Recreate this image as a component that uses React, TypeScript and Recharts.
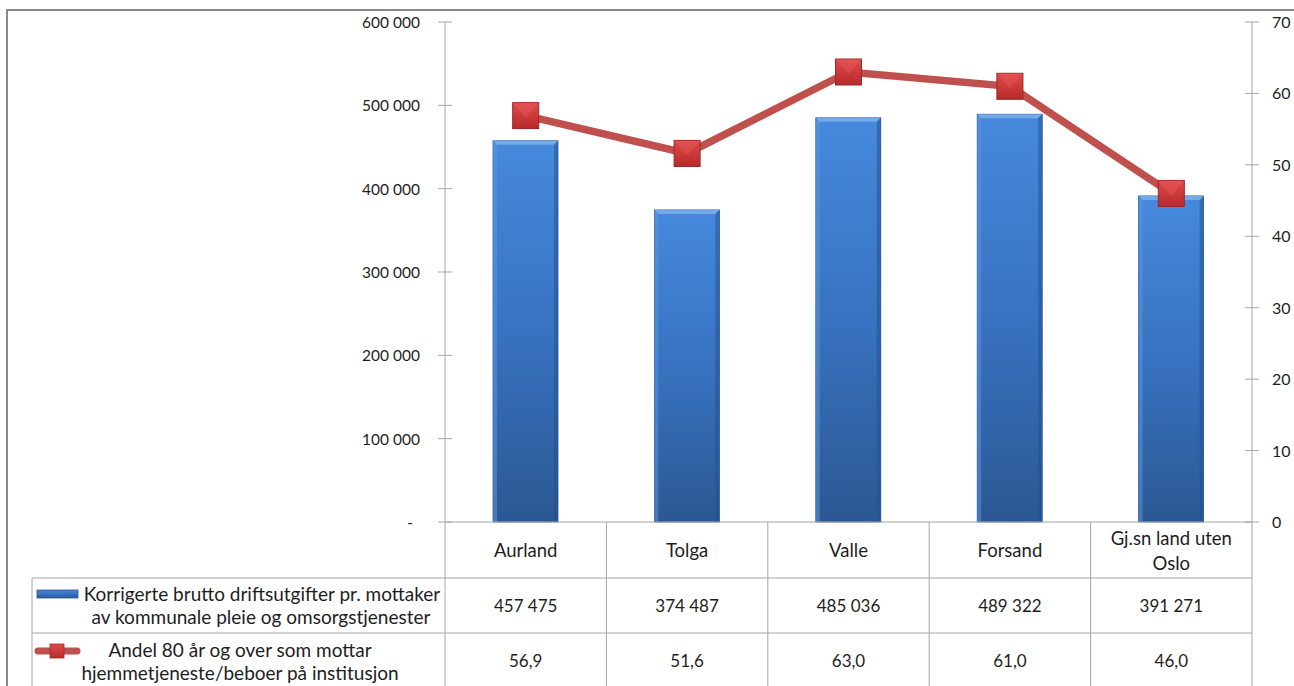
import React from 'react';
import { ComposedChart, Bar, Line, XAxis, YAxis } from 'recharts';

const categories = ['Aurland', 'Tolga', 'Valle', 'Forsand', 'Gj.sn land uten\nOslo'];
const costs = [457475, 374487, 485036, 489322, 391271];
const shares = [56.9, 51.6, 63.0, 61.0, 46.0];
const costTicks = [0, 100000, 200000, 300000, 400000, 500000, 600000];
const shareTicks = [0, 10, 20, 30, 40, 50, 60, 70];
const costLabel = ['Korrigerte brutto driftsutgifter pr. mottaker', 'av kommunale pleie og omsorgstjenester'];
const shareLabel = ['Andel 80 år og over som mottar', 'hjemmetjeneste/beboer på institusjon'];

const rows = categories.map((name, i) => ({ name, cost: costs[i], share: shares[i] }));

const W = 1294;
const H = 686;
const PLOT_LEFT = 445;
const PLOT_RIGHT = 1252;
const PLOT_TOP = 22;
const PLOT_BOTTOM = 522;
const ROW1 = 578;
const ROW2 = 633;
const LEGEND_LEFT = 32;
const COL_W = (PLOT_RIGHT - PLOT_LEFT) / categories.length;
const FONT = 'Lato, "Open Sans", sans-serif';
const GRID = '#a6a6a6';
const TEXT = '#1e1e1e';

const fmtCost = (v: number) => String(v).replace(/\B(?=(\d{3})+(?!\d))/g, ' ');
const fmtShare = (v: number) => v.toFixed(1).replace('.', ',');

const LeftTick = (props: any) => {
  const { y, payload } = props;
  const v = payload.value as number;
  return (
    <g>
      <line x1={PLOT_LEFT - 7} x2={PLOT_LEFT + 7} y1={y} y2={y} stroke={GRID} />
      <text x={v === 0 ? PLOT_LEFT - 32 : PLOT_LEFT - 25} y={y + 6} textAnchor="end" fontFamily={FONT} fontSize={15.5} fill={TEXT}>
        {v === 0 ? '-' : fmtCost(v)}
      </text>
    </g>
  );
};

const RightTick = (props: any) => {
  const { y, payload } = props;
  return (
    <g>
      <line x1={PLOT_RIGHT - 7} x2={PLOT_RIGHT + 7} y1={y} y2={y} stroke={GRID} />
      <text x={PLOT_RIGHT + 20} y={y + 6} textAnchor="start" fontFamily={FONT} fontSize={16} fill={TEXT}>
        {payload.value}
      </text>
    </g>
  );
};

const TableTick = (props: any) => {
  const { x, index } = props;
  const i = index as number;
  const lines = categories[i].split('\n');
  const half = COL_W / 2;
  return (
    <g fontFamily={FONT} fill={TEXT}>
      <line x1={x + half} x2={x + half} y1={PLOT_BOTTOM} y2={H} stroke={GRID} />
      {i === 0 && (
        <g fontSize={19}>
          <line x1={x - half} x2={x - half} y1={PLOT_BOTTOM} y2={H} stroke={GRID} />
          <line x1={LEGEND_LEFT} x2={PLOT_RIGHT} y1={ROW1} y2={ROW1} stroke={GRID} />
          <line x1={LEGEND_LEFT} x2={PLOT_RIGHT} y1={ROW2} y2={ROW2} stroke={GRID} />
          <line x1={LEGEND_LEFT} x2={LEGEND_LEFT} y1={ROW1} y2={H} stroke={GRID} />
          <rect x={37} y={590} width={41} height={8} fill="url(#barGrad)" stroke="#2c5a98" strokeWidth={0.8} />
          <text x={262} y={601} textAnchor="middle">{costLabel[0]}</text>
          <text x={261} y={624} textAnchor="middle">{costLabel[1]}</text>
          <line x1={38} x2={77} y1={651} y2={651} stroke="#c0504d" strokeWidth={7} strokeLinecap="round" />
          <rect x={50} y={644} width={14} height={14} fill="url(#markGrad)" stroke="#a02a2a" strokeWidth={0.8} />
          <text x={240} y={657} textAnchor="middle">{shareLabel[0]}</text>
          <text x={240} y={680} textAnchor="middle">{shareLabel[1]}</text>
        </g>
      )}
      <g fontSize={18.5}>
        {lines.length === 1 ? (
          <text x={x} y={557} textAnchor="middle">{lines[0]}</text>
        ) : (
          lines.map((l, k) => (
            <text key={k} x={x} y={545 + k * 25} textAnchor="middle">{l}</text>
          ))
        )}
      </g>
      <g fontSize={17}>
        <text x={x} y={612} textAnchor="middle">{fmtCost(costs[i])}</text>
        <text x={x} y={667} textAnchor="middle">{fmtShare(shares[i])}</text>
      </g>
    </g>
  );
};

const BevelBar = (props: any) => {
  const { x, y, width, height } = props;
  if (!height || height <= 0) return null;
  const b = 4;
  return (
    <g>
      <rect x={x} y={y} width={width} height={height} fill="url(#barGrad)" stroke="#2d5b96" strokeWidth={0.8} />
      <polygon points={`${x},${y} ${x + width},${y} ${x + width - b},${y + b} ${x + b},${y + b}`} fill="#7fb2ee" opacity={0.8} />
      <polygon points={`${x},${y} ${x + b},${y + b} ${x + b},${y + height} ${x},${y + height}`} fill="#5d98de" opacity={0.5} />
      <polygon points={`${x + width},${y} ${x + width - b},${y + b} ${x + width - b},${y + height} ${x + width},${y + height}`} fill="#1f4f8f" opacity={0.5} />
    </g>
  );
};

const SquareDot = (props: any) => {
  const { cx, cy, index } = props;
  const s = 26;
  return (
    <g key={`dot-${index}`}>
      <rect x={cx - s / 2} y={cy - s / 2} width={s} height={s} fill="url(#markGrad)" stroke="#9a2626" strokeWidth={1} />
      <polygon points={`${cx - s / 2},${cy - s / 2} ${cx + s / 2},${cy - s / 2} ${cx},${cy + 2}`} fill="#e65a5a" opacity={0.45} />
    </g>
  );
};

export default function App() {
  return (
    <div style={{ position: 'absolute', left: 0, top: 0, width: W, height: H, background: '#fff', overflow: 'hidden' }}>
      <div style={{ position: 'absolute', left: 6, top: 9, width: 1286, height: 700, borderLeft: '2px solid #8a8a8a', borderTop: '2px solid #8a8a8a', borderRight: '2px solid #8a8a8a' }} />
      <div style={{ position: 'absolute', left: 0, top: 0 }}>
        <ComposedChart width={W} height={H} data={rows} margin={{ top: PLOT_TOP, right: 0, bottom: 0, left: 0 }}>
          <defs>
            <linearGradient id="barGrad" x1="0" y1="0" x2="0" y2="1">
              <stop offset="0%" stopColor="#4689dc" />
              <stop offset="50%" stopColor="#3872c0" />
              <stop offset="100%" stopColor="#2b5893" />
            </linearGradient>
            <linearGradient id="markGrad" x1="0" y1="0" x2="0" y2="1">
              <stop offset="0%" stopColor="#e04a4a" />
              <stop offset="100%" stopColor="#b82a2a" />
            </linearGradient>
          </defs>
          <XAxis dataKey="name" height={H - PLOT_BOTTOM} interval={0} tickLine={false} axisLine={{ stroke: GRID }} tick={<TableTick />} />
          <YAxis yAxisId="left" orientation="left" width={PLOT_LEFT} domain={[0, 600000]} ticks={costTicks} tickLine={false} axisLine={{ stroke: GRID }} tick={<LeftTick />} />
          <YAxis yAxisId="right" orientation="right" width={W - PLOT_RIGHT} domain={[0, 70]} ticks={shareTicks} tickLine={false} axisLine={{ stroke: GRID }} tick={<RightTick />} />
          <Bar yAxisId="left" dataKey="cost" barSize={65} shape={<BevelBar />} isAnimationActive={false} />
          <Line yAxisId="right" dataKey="share" stroke="#c0504d" strokeWidth={7.5} dot={<SquareDot />} activeDot={false} isAnimationActive={false} />
        </ComposedChart>
      </div>
    </div>
  );
}
